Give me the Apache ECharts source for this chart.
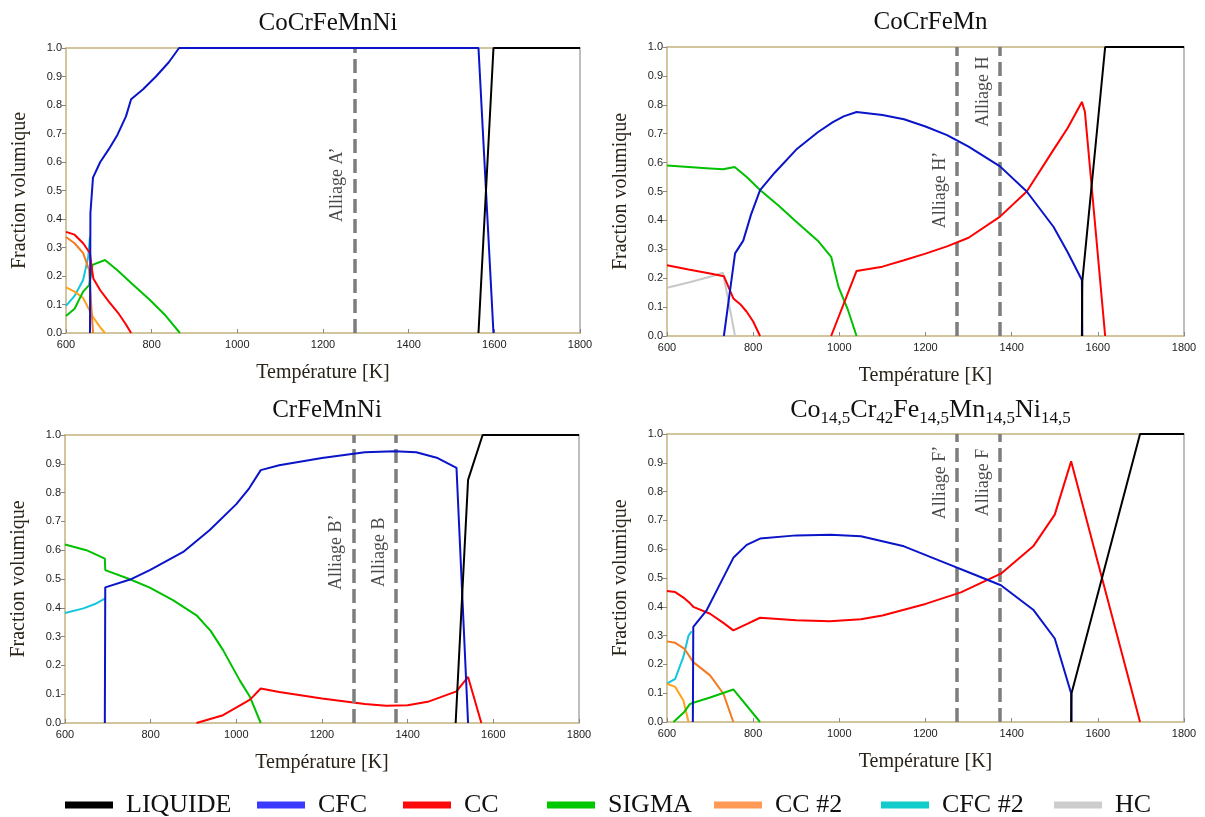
<!DOCTYPE html>
<html><head><meta charset="utf-8">
<script src="https://cdn.jsdelivr.net/npm/echarts@6/dist/echarts.min.js"></script>
<style>html,body{margin:0;padding:0;background:#fff}#c{width:1205px;height:817px}</style>
</head><body><div id="c"></div>
<script>
// ---------- DATA ----------
const xTicks = [600, 800, 1000, 1200, 1400, 1600, 1800];
const yTicks = [0, 0.1, 0.2, 0.3, 0.4, 0.5, 0.6, 0.7, 0.8, 0.9, 1.0];
const titles = ['CoCrFeMnNi', 'CoCrFeMn', 'CrFeMnNi',
  '{m|Co}{s|14,5}{m|Cr}{s|42}{m|Fe}{s|14,5}{m|Mn}{s|14,5}{m|Ni}{s|14,5}'];
const legendNames = ['LIQUIDE', 'CFC', 'CC', 'SIGMA', 'CC #2', 'CFC #2', 'HC'];

// Panel 1 : CoCrFeMnNi  [T (K), fraction]
const p1Liquide = [[1563,0],[1598,1],[1800,1]];
const p1Cfc = [[656,0],[657,0.42],[663,0.545],[680,0.6],[700,0.645],[720,0.695],[740,0.76],[752,0.82],[780,0.855],[810,0.9],[840,0.95],[864,1],[1563,1],[1598,0]];
const p1Cc = [[600,0.355],[620,0.345],[640,0.315],[656,0.28],[660,0.23],[664,0.19],[680,0.15],[700,0.11],[722,0.07],[740,0.03],[752,0]];
const p1Sigma = [[600,0.06],[620,0.085],[640,0.145],[654,0.168],[662,0.239],[691,0.256],[720,0.22],[749,0.18],[796,0.116],[830,0.065],[866,0]];
const p1Cc2 = [[600,0.337],[620,0.315],[640,0.28],[654,0.221],[658,0.12],[663,0]];
const p1Cc3 = [[600,0.16],[620,0.145],[640,0.123],[663,0.056],[680,0.02],[691,0]];
const p1Cfc2 = [[600,0.095],[620,0.13],[640,0.186],[652,0.268],[656,0.338]];
const p1Alloys = [1273];
const p1AlloyNames = ['Alliage A’'];

// Panel 2 : CoCrFeMn
const p2Liquide = [[1563,0],[1564,0.19],[1617,1],[1800,1]];
const p2Cfc = [[732,0],[758,0.286],[777,0.33],[795,0.42],[816,0.505],[850,0.565],[900,0.645],[950,0.705],[985,0.74],[1010,0.76],[1040,0.775],[1100,0.765],[1150,0.75],[1200,0.725],[1250,0.695],[1300,0.655],[1373,0.587],[1435,0.5],[1497,0.378],[1530,0.29],[1563,0.194],[1564,0]];
const p2CcLow = [[600,0.245],[650,0.23],[700,0.216],[732,0.207],[754,0.13],[770,0.11],[785,0.084],[800,0.05],[816,0]];
const p2CcHigh = [[981,0],[1040,0.225],[1100,0.24],[1150,0.262],[1200,0.285],[1250,0.31],[1300,0.34],[1373,0.413],[1435,0.5],[1497,0.644],[1530,0.72],[1563,0.81],[1570,0.776],[1617,0]];
const p2Sigma = [[600,0.59],[650,0.585],[700,0.58],[730,0.577],[757,0.585],[785,0.55],[816,0.505],[860,0.45],[900,0.395],[950,0.33],[981,0.274],[998,0.17],[1020,0.09],[1040,0]];
const p2Hc = [[600,0.167],[650,0.185],[700,0.205],[730,0.219],[758,0]];
const p2Alloys = [1273, 1373];
const p2AlloyNames = ['Alliage H’', 'Alliage H'];

// Panel 3 : CrFeMnNi
const p3Liquide = [[1512,0],[1541,0.844],[1575,1],[1800,1]];
const p3Cfc = [[693,0],[694,0.471],[752,0.498],[798,0.531],[876,0.594],[938,0.67],[1000,0.76],[1030,0.815],[1057,0.878],[1100,0.895],[1200,0.92],[1300,0.94],[1370,0.944],[1420,0.94],[1470,0.92],[1514,0.886],[1541,0]];
const p3Cc = [[907,0],[969,0.027],[1032,0.081],[1057,0.12],[1100,0.108],[1200,0.085],[1300,0.066],[1350,0.06],[1400,0.062],[1450,0.075],[1514,0.11],[1541,0.16],[1572,0]];
const p3Sigma = [[600,0.62],[650,0.6],[693,0.571],[694,0.531],[750,0.5],[798,0.47],[853,0.426],[907,0.374],[940,0.32],[969,0.253],[1008,0.148],[1032,0.09],[1057,0]];
const p3Cfc2 = [[600,0.382],[643,0.398],[670,0.413],[693,0.432]];
const p3Alloys = [1273, 1373];
const p3AlloyNames = ['Alliage B’', 'Alliage B'];

// Panel 4 : Co14,5Cr42Fe14,5Mn14,5Ni14,5
const p4Liquide = [[1538,0],[1539,0.1],[1698,1],[1800,1]];
const p4Cfc = [[660,0],[661,0.33],[692,0.388],[720,0.47],[754,0.57],[785,0.615],[816,0.637],[900,0.648],[980,0.65],[1050,0.645],[1150,0.61],[1250,0.55],[1300,0.52],[1375,0.475],[1450,0.39],[1500,0.29],[1538,0.1],[1539,0]];
const p4Cc = [[600,0.455],[619,0.451],[640,0.43],[653,0.413],[661,0.4],[700,0.376],[730,0.345],[754,0.318],[785,0.34],[816,0.362],[900,0.353],[978,0.35],[1050,0.357],[1100,0.37],[1200,0.41],[1282,0.45],[1375,0.515],[1450,0.61],[1500,0.72],[1538,0.905],[1698,0]];
const p4Sigma = [[615,0],[640,0.035],[653,0.062],[661,0.067],[700,0.085],[754,0.113],[816,0]];
const p4Cc2 = [[600,0.28],[619,0.275],[640,0.255],[661,0.208],[700,0.162],[731,0.098],[754,0]];
const p4Cc3 = [[600,0.133],[619,0.122],[638,0.075],[650,0]];
const p4Cfc2 = [[600,0.133],[619,0.15],[638,0.226],[650,0.3],[657,0.315]];
const p4Alloys = [1273, 1373];
const p4AlloyNames = ['Alliage F’', 'Alliage F'];

// ---------- STYLE / LAYOUT ----------
const lineColors = {'LIQUIDE':'#000000','CFC':'#0a14c8','CC':'#ff0000','SIGMA':'#00c000','CC #2':'#f5791f','CC #3':'#ffa31a','CFC #2':'#14c6dc','HC':'#c8c8c8'};
const legendColors = {'LIQUIDE':'#000000','CFC':'#3a3aff','CC':'#ff0a0a','SIGMA':'#00c800','CC #2':'#ff9955','CFC #2':'#12cccc','HC':'#cccccc'};
const legendLefts = [60, 252, 398, 542, 709, 876, 1049];
const grids = [
  {left:66, top:48, width:514, height:285},
  {left:667, top:47, width:517, height:289},
  {left:65, top:435, width:514, height:288},
  {left:667, top:434, width:517, height:288}
];
const labelY = [[0.52], [0.505, 0.845], [0.593, 0.593], [0.832, 0.832]];

const panels = [
  {series:[['CFC #2',p1Cfc2],['CC #3',p1Cc3],['CC #2',p1Cc2],['SIGMA',p1Sigma],['CC',p1Cc],['CFC',p1Cfc],['LIQUIDE',p1Liquide]], alloys:p1Alloys, names:p1AlloyNames},
  {series:[['HC',p2Hc],['SIGMA',p2Sigma],['CC',p2CcLow],['CC',p2CcHigh],['CFC',p2Cfc],['LIQUIDE',p2Liquide]], alloys:p2Alloys, names:p2AlloyNames},
  {series:[['CFC #2',p3Cfc2],['SIGMA',p3Sigma],['CC',p3Cc],['CFC',p3Cfc],['LIQUIDE',p3Liquide]], alloys:p3Alloys, names:p3AlloyNames},
  {series:[['CFC #2',p4Cfc2],['CC #3',p4Cc3],['CC #2',p4Cc2],['SIGMA',p4Sigma],['CC',p4Cc],['CFC',p4Cfc],['LIQUIDE',p4Liquide]], alloys:p4Alloys, names:p4AlloyNames}
];

const SERIF = "'Liberation Serif', 'DejaVu Serif', serif";
const SANS = "'Liberation Sans', Arial, sans-serif";
const tan = '#c4b27e';

const xAxis = [], yAxis = [], series = [], title = [];
grids.forEach((g, i) => {
  xAxis.push({
    type:'value', gridIndex:i, min:xTicks[0], max:xTicks[xTicks.length-1], interval:xTicks[1]-xTicks[0],
    name:'Température [K]', nameLocation:'middle', nameGap:30,
    nameTextStyle:{fontFamily:SERIF, fontSize:20, color:'#2a2418'},
    axisLine:{show:true, lineStyle:{color:tan, width:1.5}},
    axisTick:{show:true, inside:true, length:4, lineStyle:{color:'#888'}},
    axisLabel:{fontFamily:SANS, fontSize:11, color:'#222', margin:6, formatter:v => String(v)},
    splitLine:{show:false}
  });
  xAxis.push({
    type:'value', gridIndex:i, position:'top', min:xTicks[0], max:xTicks[xTicks.length-1],
    axisLine:{show:true, onZero:false, lineStyle:{color:tan, width:1.5}},
    axisTick:{show:false}, axisLabel:{show:false}, splitLine:{show:false}
  });
  yAxis.push({
    type:'value', gridIndex:i, min:yTicks[0], max:yTicks[yTicks.length-1], interval:0.1,
    name:'Fraction volumique', nameLocation:'middle', nameGap:36,
    nameTextStyle:{fontFamily:SERIF, fontSize:20, color:'#2a2418'},
    axisLine:{show:true, lineStyle:{color:tan, width:1.5}},
    axisTick:{show:true, length:4, lineStyle:{color:'#888'}},
    axisLabel:{fontFamily:SANS, fontSize:11, color:'#222', margin:4, formatter:v => v.toFixed(1)},
    splitLine:{show:false}
  });
  yAxis.push({
    type:'value', gridIndex:i, position:'right', min:0, max:1,
    axisLine:{show:true, onZero:false, lineStyle:{color:'#a8a8a8', width:1.5}},
    axisTick:{show:false}, axisLabel:{show:false}, splitLine:{show:false}
  });
  title.push({
    text:titles[i], left:g.left + g.width/2, top:g.top - 42, textAlign:'center',
    textStyle:{fontFamily:SERIF, fontSize:25, fontWeight:'normal', color:'#111',
      rich:{m:{fontFamily:SERIF, fontSize:26, color:'#111', lineHeight:30, verticalAlign:'top'},
            s:{fontFamily:SERIF, fontSize:17, color:'#111', lineHeight:12, verticalAlign:'bottom'}}}
  });
  const p = panels[i];
  p.series.forEach(([name, data], k) => {
    series.push({
      type:'line', name, xAxisIndex:i*2, yAxisIndex:i*2, data,
      showSymbol:false, symbol:'none', animation:false, z:2+k,
      lineStyle:{color:lineColors[name], width:2}, itemStyle:{color:lineColors[name]}
    });
  });
  series.push({
    type:'scatter', name:'alloys'+i, xAxisIndex:i*2, yAxisIndex:i*2,
    data:p.alloys.map((t, j) => ({value:[t, labelY[i][j]], label:{formatter:p.names[j]}})),
    symbolSize:0, animation:false, z:20,
    label:{show:true, position:'inside', rotate:90, offset:[0, -17],
      fontFamily:SERIF, fontSize:18, color:'#1a1a1a'},
    markLine:{silent:true, symbol:['none','none'], animation:false, label:{show:false},
      lineStyle:{color:'#7d7d7d', width:3.5, type:[14,6]},
      data:p.alloys.map(t => ({xAxis:t}))}
  });
});

const legend = legendNames.map((n, i) => ({
  data:[{name:n, itemStyle:{color:legendColors[n]}, lineStyle:{color:legendColors[n], width:0}}],
  left:legendLefts[i], top:787, icon:'rect', itemWidth:48, itemHeight:7,
  selectedMode:false,
  textStyle:{fontFamily:SERIF, fontSize:26, color:'#111', padding:[0,0,0,8]}
}));

const chart = echarts.init(document.getElementById('c'), null, {renderer:'canvas'});
chart.setOption({animation:false, backgroundColor:'#fff', title, legend, grid:grids, xAxis, yAxis, series});
</script>
</body></html>
